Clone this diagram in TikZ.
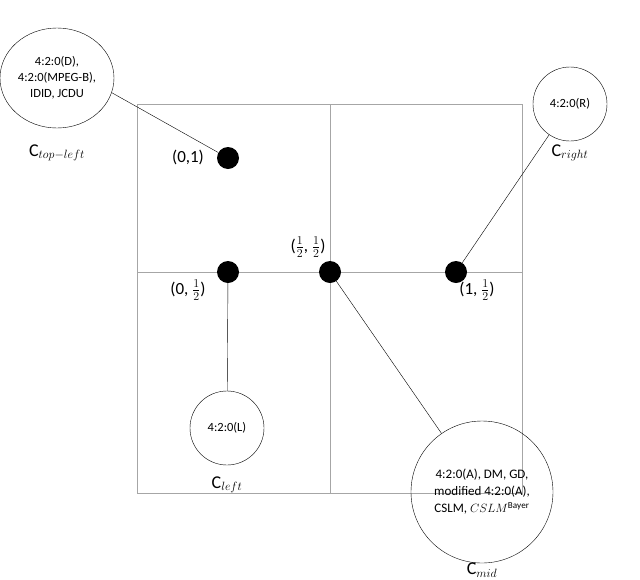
\documentclass[tikz,border=0pt]{standalone}
\usepackage{fontspec}
\setmainfont{Carlito}
\usetikzlibrary{shapes.geometric}
\begin{document}
\begin{tikzpicture}[x=1pt,y=-1pt,
  dot/.style={circle,fill=black,inner sep=0pt,minimum size=22pt},
  bubble/.style={circle,draw,thin,inner sep=0pt,align=center,font=\fontsize{12.5}{15}\selectfont},
  captext/.style={font=\fontsize{18}{20}\selectfont},
  lab/.style={font=\fontsize{17}{19}\selectfont},
  conn/.style={draw,thin}]
\useasboundingbox (0,0) rectangle (640,579);
\draw[gray!70,thick] (137,104) rectangle (522,493);
\draw[gray!70,thick] (330,104) -- (330,493);
\draw[gray!70,thick] (137,272) -- (522,272);
\node[dot] (d01) at (228,158) {};
\node[dot] (d0h) at (228,272) {};
\node[dot] (dhh) at (330,272) {};
\node[dot] (d1h) at (456,272) {};
\node[lab] (l01) at (188,157) {(0,1)};
\node[lab] (lhh) at (308,247) {($\frac{1}{2}$, $\frac{1}{2}$)};
\node[lab] (l0h) at (188,290) {(0, $\frac{1}{2}$)};
\node[lab] (l1h) at (477,290) {(1, $\frac{1}{2}$)};
\node[ellipse,draw,thin,minimum width=114pt,minimum height=100pt,inner sep=0pt,align=center,font=\fontsize{12.5}{16}\selectfont] (ctl) at (57,78) {4:2:0(D),\\4:2:0(MPEG-B),\\IDID, JCDU};
\node[captext] (tctl) at (57,153) {C$_{top-left}$};
\node[bubble,minimum size=74pt] (cr) at (570,104) {4:2:0(R)};
\node[captext] (tcr) at (570,153) {C$_{right}$};
\node[bubble,minimum size=74pt] (cl) at (227,428) {4:2:0(L)};
\node[captext] (tcl) at (227,485) {C$_{left}$};
\node[bubble,minimum size=142pt,font=\fontsize{13}{17}\selectfont] (cm) at (482,492) {4:2:0(A), DM, GD,\\modified 4:2:0(A),\\CSLM, $CSLM^{\mathrm{Bayer}}$};
\node[captext] (tcm) at (482,570) {C$_{mid}$};
\draw[conn] (ctl.-15) -- (d01);
\draw[conn] (cr) -- (d1h);
\draw[conn] (d0h.center) -- (cl);
\draw[conn] (dhh.center) -- (cm);
\end{tikzpicture}
\end{document}
